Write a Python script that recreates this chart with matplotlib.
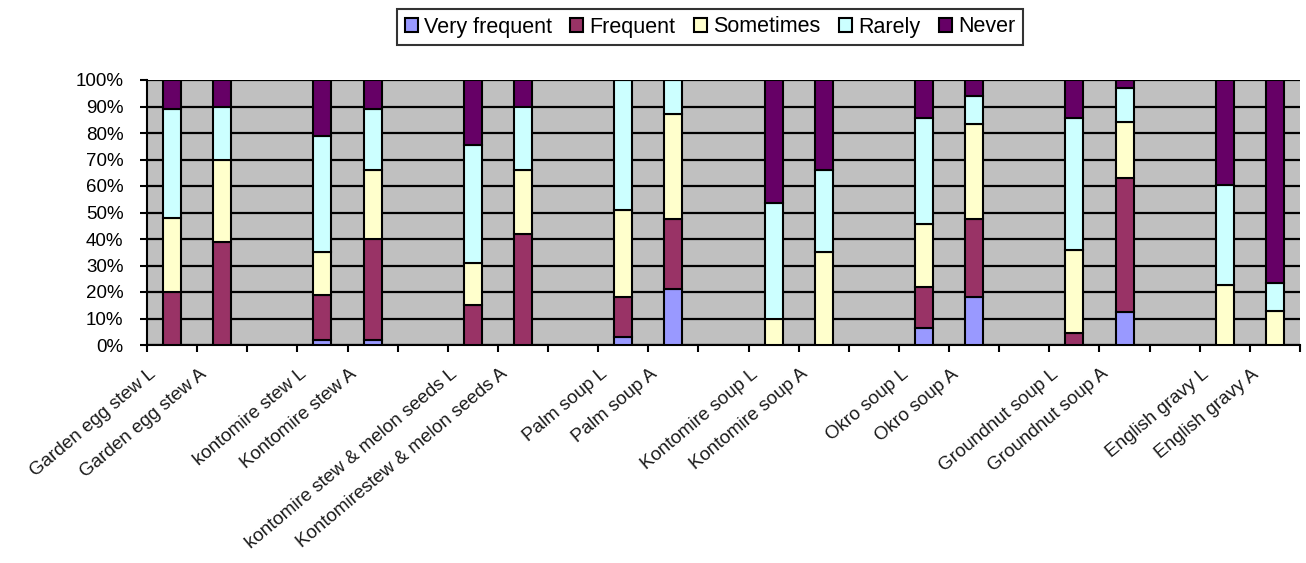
import matplotlib
matplotlib.use("Agg")
import matplotlib.pyplot as plt
import matplotlib.transforms as mtransforms
import numpy as np

plt.rcParams['font.family'] = ['Liberation Sans', 'DejaVu Sans']

# Data (percent of respondents per dish, L and A)
dishes = ["Garden egg stew L", "Garden egg stew A",
          "kontomire stew L", "Kontomire stew A",
          "kontomire stew & melon seeds L", "Kontomirestew & melon seeds A",
          "Palm soup L", "Palm soup A",
          "Kontomire soup L", "Kontomire soup A",
          "Okro soup L", "Okro soup A",
          "Groundnut soup L", "Groundnut soup A",
          "English gravy L", "English gravy A"]
very_frequent = [0, 0, 2, 2, 0, 0, 3, 21, 0, 0, 6.5, 18, 0, 12.5, 0, 0]
frequent = [20, 39, 17, 38, 15, 42, 15, 26.5, 0, 0, 15.5, 29.5, 4.5, 50.5, 0, 0]
sometimes = [28, 31, 16, 26, 16, 24, 33, 39.5, 10, 35, 23.5, 36, 31.5, 21, 22.5, 13]
rarely = [41, 20, 44, 23, 44.5, 24, 49, 13, 43.5, 31, 40, 10.5, 49.5, 13, 38, 10.5]
never = [11, 10, 21, 11, 24.5, 10, 0, 0, 46.5, 34, 14.5, 6, 14.5, 3, 39.5, 76.5]

series = ["Very frequent", "Frequent", "Sometimes", "Rarely", "Never"]
colors = ["#9999FF", "#993366", "#FFFFCC", "#CCFFFF", "#660066"]

# each pair of bars is followed by an empty category slot
pos = np.array([(i // 2) * 3 + i % 2 for i in range(len(dishes))])
n_slots = pos[-1] + 1

fig = plt.figure(figsize=(13.06, 5.63), dpi=100)
ax = fig.add_axes([147 / 1306, 1 - 345 / 563, 1153 / 1306, 265 / 563])
ax.set_facecolor("#C0C0C0")

ax.set_ylim(0, 100)
ax.set_xlim(-0.5, n_slots - 0.5)
ax.set_yticks(np.arange(0, 101, 10))
ax.set_yticklabels([f"{v}%" for v in range(0, 101, 10)], fontsize=13.5)
ax.yaxis.grid(True, color="black", linewidth=1.6)
ax.set_axisbelow(True)

bottom = np.zeros(len(dishes))
for name, vals, col in zip(series, [very_frequent, frequent, sometimes, rarely, never], colors):
    vals = np.array(vals, dtype=float)
    ax.bar(pos, vals, width=0.36, bottom=bottom, color=col, edgecolor="black",
           linewidth=1.5, label=name, zorder=3)
    bottom += vals

# category ticks sit between slots; labels placed at bar centres
ax.set_xticks(np.arange(-0.5, n_slots, 1.0))
ax.set_xticklabels([])
ax.tick_params(axis="x", direction="out", length=5, width=1.5, color="black")
ax.tick_params(axis="y", direction="out", length=5, width=1.5, color="black", pad=12)
offset = mtransforms.ScaledTranslation(-18 / 100, -27 / 100, fig.dpi_scale_trans)
for p, lab in zip(pos, dishes):
    ax.text(p, 0, lab, rotation=40, ha="right", va="center", rotation_mode="anchor",
            fontsize=13.5, color="#1a1a1a", transform=ax.get_xaxis_transform() + offset)

for side in ["top", "right"]:
    ax.spines[side].set_visible(False)
for side in ["left", "bottom"]:
    ax.spines[side].set_linewidth(1.5)
    ax.spines[side].set_color("black")

leg = fig.legend(loc="center", bbox_to_anchor=(710 / 1306, 1 - 27 / 563), ncol=5,
                 fontsize=15.5, frameon=True, fancybox=False, edgecolor="black",
                 handlelength=0.6, handleheight=0.6, handletextpad=0.3,
                 columnspacing=0.85, borderpad=0.35)
leg.get_frame().set_linewidth(1.5)

fig.savefig("out.png", dpi=100)
